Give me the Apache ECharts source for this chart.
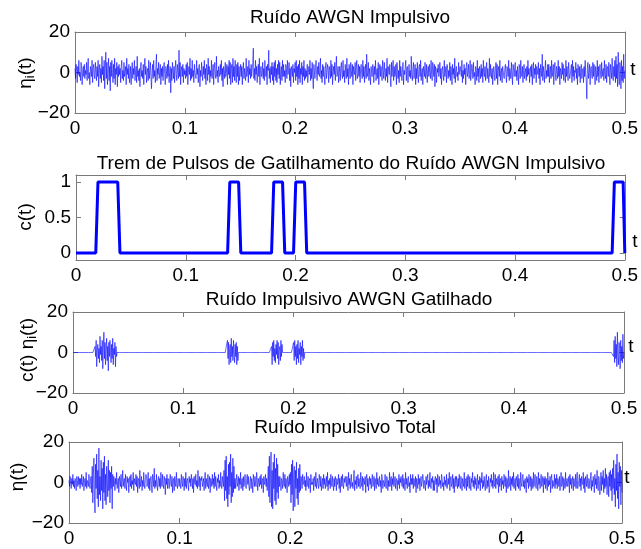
<!DOCTYPE html>
<html>
<head>
<meta charset="utf-8">
<script src="https://cdn.jsdelivr.net/npm/echarts@6/dist/echarts.min.js"></script>
<style>
  html, body { margin: 0; background: #fff; }
  #chart { width: 641px; height: 549px; }
</style>
</head>
<body>
<div id="chart"></div>
<script>
// gating pulses c(t): start / end times (s)
const pulseStart = [0.02, 0.14, 0.18, 0.20, 0.49]
const pulseEnd = [0.04, 0.15, 0.19, 0.21, 0.4995]

// AWGN impulsive noise eta_i(t), 20 samples per row, spans 0..0.5 s
const etaI = [
  2,-3,4,1,-5,3,-1,6,-2,0,-4,5,2,-6,1,3,-2,4,-3,1,
  -1,5,-4,2,7,-3,0,-6,3,1,-2,6,-5,2,4,-1,-3,5,0,-4,
  3,-2,6,-7,1,4,-3,2,-5,8,-1,3,-4,6,-8,2,10,-3,5,-6,
  1,7,-4,3,-9,5,-2,6,0,-5,4,-3,7,-6,2,-1,5,-7,3,-2,
  4,-1,2,-5,3,6,-3,1,-4,5,-2,0,3,-6,7,-1,2,-3,4,-5,
  -2,3,-6,1,5,-3,2,-1,6,-4,0,3,-5,8,-2,1,-4,2,-7,3,
  5,-2,1,-3,4,-6,2,7,-1,3,-5,0,2,-4,6,-3,1,5,-2,-8,
  0,4,-3,6,-2,1,-5,3,9,-4,2,-1,5,-3,0,4,-6,2,-2,3,
  -4,2,5,-1,-6,3,1,-3,4,-2,6,-5,0,3,-10,2,-4,5,1,-3,
  3,-5,2,6,-1,-4,4,0,-3,11,-2,5,-6,1,3,-2,4,-5,2,-1,
  1,-3,4,-2,5,-6,0,3,-1,7,-4,2,-3,6,-2,1,-5,4,0,-2,
  -3,6,-1,2,-5,3,4,-7,1,-2,5,0,-4,3,-1,6,-3,2,-6,4,
  2,-4,7,-1,3,-5,1,-2,6,-3,0,4,-6,2,5,-1,-3,8,-2,1,
  -5,3,0,-2,4,-1,6,-4,2,-7,3,1,-3,5,-2,0,4,-6,3,-1,
  6,-3,5,-6,2,4,-5,7,-2,3,-4,6,-1,-5,4,-2,5,-6,3,-4,
  0,4,-2,3,-6,1,5,-3,2,-1,-4,7,-2,0,3,-5,6,-1,2,-3,
  4,-2,1,5,12,-3,2,-4,6,-1,3,-5,0,4,-2,7,-6,1,3,-2,
  -1,5,-3,2,-4,6,0,-2,3,-6,4,1,11,-3,2,-5,3,-1,5,-4,
  3,-6,5,-2,6,-4,2,-5,4,-1,6,-3,5,-6,1,3,-4,6,-2,4,
  -2,1,-5,4,2,-3,6,-1,0,5,-4,2,-7,3,1,-2,4,-5,2,0,
  5,-4,6,-2,3,-6,4,-3,6,-5,2,-1,5,-6,3,-2,6,-4,2,-3,
  1,-2,4,-5,0,3,-1,6,-4,2,-3,5,-2,-8,4,1,-3,2,6,-1,
  -4,3,-1,5,-2,0,7,-3,1,-5,4,-2,3,-1,-6,2,5,-3,0,4,
  2,-5,3,1,-3,6,-2,4,-6,0,3,-1,5,-4,2,8,-2,-1,3,-5,
  0,3,-4,2,5,-1,-3,6,-2,1,-5,4,0,-3,7,-2,2,-6,4,1,
  -3,5,1,-2,4,-6,3,0,-1,5,-4,2,6,-3,-1,4,-2,3,-5,2,
  4,-1,-3,6,-2,3,-5,1,4,-3,9,-2,0,5,-4,2,-1,-6,3,0,
  -2,4,2,-5,3,-1,6,-4,0,2,-3,5,-6,1,4,-2,3,-1,-4,6,
  1,-3,5,0,-4,2,-2,7,-5,3,1,-1,4,-3,-7,5,-2,2,6,-4,
  3,-2,-1,4,-6,5,2,-3,1,-5,6,-2,3,0,-4,2,5,-6,1,-1,
  -1,6,-4,2,3,-5,0,4,-2,1,-3,8,-1,-4,2,5,-3,0,4,-6,
  2,-3,5,-1,-5,3,4,-2,6,-4,0,2,-6,3,1,-2,5,-3,-1,4,
  -5,1,3,-2,4,0,-3,6,-1,-4,5,2,-2,4,-7,3,1,-5,2,0,
  4,-2,0,5,-3,2,-6,1,3,-1,-4,6,-2,0,3,-5,4,2,-3,1,
  -2,5,-4,3,1,-6,4,-1,2,-3,7,-5,1,3,-2,0,-4,5,-1,2,
  3,0,-2,6,-5,1,-3,4,-1,2,-6,3,5,-2,0,4,-3,-1,6,-4,
  -1,4,2,-3,5,-2,0,-6,3,1,-4,6,-2,2,-5,3,1,-3,4,-2,
  2,-5,6,0,-2,3,-4,1,5,-3,2,-1,-5,7,-2,4,0,-3,2,-6,
  0,3,-1,-4,2,5,-3,4,-6,1,3,-2,6,-4,0,2,-5,3,1,-2,
  -3,2,4,-1,-5,3,1,-2,6,-4,2,0,-3,5,-1,-6,4,2,-2,3,
  5,-2,1,-4,3,0,-6,4,2,-3,6,-1,-2,3,-5,1,4,-3,0,2,
  -4,3,-2,6,-1,2,-5,0,3,-2,4,-6,1,5,-3,2,-1,4,-5,3,
  1,-1,5,-3,2,-6,4,1,-2,9,-4,3,0,-5,2,6,-3,1,-2,4,
  -2,4,-5,1,3,-3,6,-2,0,4,-6,2,5,-1,-4,3,1,-3,6,-2,
  3,-6,2,0,-3,5,-1,4,-4,2,1,-5,6,-2,3,-1,-4,5,0,-3,
  -1,2,4,-5,6,-2,3,-4,1,0,5,-3,2,-6,4,1,-2,3,-5,2,
  4,-3,1,2,-5,3,-2,6,-1,-4,-13,2,5,-3,0,4,-6,2,3,-2,
  -3,5,-2,4,1,-6,3,0,-4,6,-2,3,-5,2,4,-1,-3,5,-2,1,
  2,-4,6,-1,-3,4,-5,2,3,-2,5,0,-6,4,1,-3,7,-2,-4,3,
  -2,6,-5,8,-3,4,-7,10,-1,-6,5,2,-8,6,-4,3,-5,9,-3,1
]

// total impulsive noise eta(t), same time grid
const etaTotal = [
  1,-2,3,0,-3,2,-1,4,-2,1,-3,2,0,-4,3,1,-2,3,-1,2,
  -3,2,-1,4,-2,0,3,-4,1,2,-2,5,-3,1,0,-2,4,-1,-3,2,
  3,-5,8,-10,4,12,-7,-15,9,-3,14,-8,6,-12,17,-6,3,-9,11,-4,
  7,-13,10,-5,13,-9,4,-11,8,2,-7,11,-4,6,-10,5,-3,8,-13,4,
  -2,3,1,-4,2,-1,5,-3,0,2,-5,3,1,-2,4,-3,0,6,-2,1,
  2,-3,4,-1,-4,3,0,2,-5,1,3,-2,4,-3,1,-1,5,-4,2,0,
  -1,4,-2,3,-5,1,2,-3,6,-2,0,3,-4,1,-2,5,-1,-3,2,4,
  3,-2,0,5,-3,2,-4,1,3,-1,-5,4,2,-2,7,-3,1,-2,4,-1,
  -4,1,3,-2,2,-3,5,0,-2,4,-1,-3,3,1,-6,2,-1,4,-3,2,
  1,-3,2,4,-1,-2,3,-5,1,2,-4,3,0,-2,5,-1,-3,2,1,-2,
  2,-1,-3,4,0,-2,3,1,-4,2,-2,5,-3,1,2,-1,-4,3,0,2,
  -2,4,1,-3,2,-5,3,0,-1,4,-2,1,-3,6,-1,-2,3,-4,2,1,
  3,-2,0,2,-4,1,5,-3,2,-1,-2,4,-3,0,3,-5,2,1,-2,4,
  -1,2,-3,5,-2,3,-1,-4,2,0,4,-3,1,-2,5,-1,-3,3,0,-2,
  6,-9,11,-4,13,-8,3,-12,9,-6,10,-2,14,-10,5,-7,12,-5,8,-3,
  2,-3,1,4,-2,0,3,-4,2,-1,5,-3,1,2,-4,3,-2,0,4,-1,
  -3,2,4,-1,3,-2,-4,1,3,-3,2,0,-5,4,1,-2,3,-1,-2,5,
  1,-4,2,0,-2,3,-1,4,-3,1,2,-5,3,-1,0,4,-2,2,-4,1,
  8,-7,13,-10,4,15,-12,6,-13,10,-3,14,-9,7,-11,12,-5,9,-8,3,
  -2,3,0,-4,2,1,-3,5,-1,-2,4,-3,2,0,-5,3,1,-2,4,-1,
  5,-10,9,-6,11,-14,4,8,-12,6,-3,10,-8,2,-11,7,-5,9,-4,3,
  2,-3,4,-1,0,3,-2,1,-4,5,-2,0,3,-3,1,2,-5,4,-1,0,
  -1,2,-4,3,1,-2,5,-3,0,2,-1,-3,4,1,-2,3,-4,0,2,-3,
  4,-1,2,-3,0,3,-2,5,-4,1,-1,2,-3,4,0,-2,3,-1,-4,2,
  -2,3,1,-4,2,-1,0,4,-3,2,-5,1,3,-2,4,-1,-3,2,0,3,
  1,-2,3,0,-4,5,-1,2,-3,1,4,-2,0,-3,2,6,-4,1,-1,3,
  -3,1,4,-2,2,-1,-3,5,0,-2,3,-4,2,1,-1,3,-5,2,4,-2,
  2,-4,0,3,-1,2,-3,1,4,-2,-1,3,-4,2,0,-3,5,-1,2,-2,
  0,3,-2,1,-5,4,2,-3,1,0,-2,4,-1,-3,3,2,-4,1,-2,5,
  -2,1,3,-4,2,-1,5,-2,0,3,-3,1,2,-4,1,-1,4,-3,2,0,
  3,-1,-2,4,-3,2,0,-4,5,-1,2,-3,1,3,-2,0,-5,4,-1,2,
  -1,4,-3,2,1,-2,3,-5,2,0,-3,4,-1,2,-4,1,3,-2,0,4,
  2,-3,1,0,-4,3,-1,2,4,-3,1,-2,5,-1,-3,2,0,3,-4,1,
  -4,2,3,-1,2,-5,4,0,-2,3,-1,1,-3,4,2,-2,0,-4,3,-1,
  1,-2,4,-3,0,2,-1,5,-4,1,3,-2,-1,4,-3,2,-5,1,3,-2,
  3,0,-3,2,-2,4,-1,-3,3,1,-4,2,0,-2,5,-3,1,2,-4,3,
  -2,4,1,-3,3,-1,-4,2,0,5,-2,1,-3,3,-1,2,-4,0,4,-3,
  1,-1,3,-4,2,0,5,-3,1,-2,3,-1,-4,2,4,-3,1,-2,3,-5,
  -3,2,0,4,-2,1,-3,5,-1,-2,4,-3,2,0,-1,3,-5,4,-2,1,
  2,-4,3,-1,1,-3,4,0,-2,3,-5,2,1,-3,6,-2,0,3,-4,2,
  -1,3,-2,5,-3,0,2,-4,3,1,-2,4,-3,2,-1,-4,5,0,-2,3,
  4,-2,1,-3,2,-1,-5,3,0,2,-3,4,-1,-2,3,-4,2,1,-3,5,
  -2,1,4,-2,-3,3,0,-4,5,-1,2,-3,1,4,-2,0,3,-5,2,-1,
  3,-3,2,0,-4,5,-2,1,-1,3,-5,2,4,-3,1,-1,-2,4,-3,2,
  -1,4,-3,2,1,-2,3,-4,0,5,-2,-1,3,-4,2,0,-3,5,-2,1,
  2,-2,0,3,-5,4,-1,2,-3,1,3,-4,2,-1,-2,4,-3,1,5,-3,
  -3,1,4,-2,2,-4,3,0,-1,5,-3,2,-5,3,1,-2,4,-1,-3,2,
  1,-3,2,5,-4,1,-2,3,0,-5,4,-1,2,-3,6,-2,-4,3,1,-6,
  -2,5,-4,3,-1,6,-5,2,-3,7,-2,4,-6,1,3,-7,5,-2,6,-4,
  4,-9,7,-3,11,-6,2,-12,9,-4,14,-8,5,-13,10,-2,8,-11,6,-5
]

const titles = [
  'Ruído AWGN Impulsivo',
  'Trem de Pulsos de Gatilhamento do Ruído AWGN Impulsivo',
  'Ruído Impulsivo AWGN Gatilhado',
  'Ruído Impulsivo Total'
]
const yNames = ['η{sub|i}(t)', 'c(t)', 'c(t) η{sub|i}(t)', 'η(t)']
const cTicks = [0, 0.5, 1]

const n = etaI.length
const time = etaI.map((_, i) => 0.5 * i / (n - 1))
const gate = time.map(t => pulseStart.some((s, k) => t >= s - 1e-9 && t <= pulseEnd[k] - 1e-9) ? 1 : 0)
const gated = etaI.map((v, i) => v * gate[i])

const pair = arr => arr.map((v, i) => [time[i], v])

const FONT = 'Liberation Sans, Arial, sans-serif'
const GRAY = '#7a7a7a'

const grids = [
  { left: 75, top: 32, width: 551, height: 81 },
  { left: 76, top: 175, width: 551, height: 85 },
  { left: 73, top: 312, width: 551, height: 81 },
  { left: 69, top: 442, width: 553, height: 81 }
]

const minus = v => String(v).replace('-', '\u2212')

const xAxes = []
const yAxes = []
grids.forEach((g, k) => {
  const base = {
    gridIndex: k,
    type: 'value',
    min: 0,
    max: 0.5,
    interval: 0.1,
    axisLine: { show: true, onZero: false, lineStyle: { color: GRAY, width: 1 } },
    axisTick: { show: true, inside: true, length: 5, lineStyle: { color: GRAY } },
    splitLine: { show: false }
  }
  xAxes.push(Object.assign({}, base, {
    position: 'bottom',
    axisLabel: { color: '#000', fontSize: 19, fontFamily: FONT, margin: 6 }
  }))
  xAxes.push(Object.assign({}, base, { position: 'top', axisLabel: { show: false } }))

  const isC = k === 1
  const ybase = {
    gridIndex: k,
    type: 'value',
    min: isC ? -0.1 : -20,
    max: isC ? 1.1 : 20,
    interval: isC ? undefined : 20,
    axisLine: { show: true, onZero: false, lineStyle: { color: GRAY, width: 1 } },
    axisTick: { show: true, inside: true, length: 5, lineStyle: { color: GRAY } },
    splitLine: { show: false }
  }
  if (isC) ybase.axisTick.customValues = cTicks
  yAxes.push(Object.assign({}, ybase, {
    position: 'left',
    axisLabel: {
      color: '#000', fontSize: 19, fontFamily: FONT, margin: 5,
      formatter: minus,
      customValues: isC ? cTicks : undefined
    }
  }))
  yAxes.push(Object.assign({}, ybase, { position: 'right', axisLabel: { show: false } }))
})

const seriesData = [pair(etaI), pair(gate), pair(gated), pair(etaTotal)]
const series = seriesData.map((d, k) => ({
  type: 'line',
  xAxisIndex: 2 * k,
  yAxisIndex: 2 * k,
  data: d,
  symbol: 'none',
  silent: true,
  lineStyle: { color: '#0000ff', width: k === 1 ? 3 : 0.6 }
}))

const titlePos = [[350, 18], [351, 164], [349, 300], [345, 428]]
const yNamePos = [[26, 73], [26, 217], [28, 350], [18, 477]]
const tPos = [[633, 70], [635, 242], [631, 347], [627, 478]]

const graphic = []
titles.forEach((txt, k) => {
  graphic.push({
    type: 'text', x: titlePos[k][0], y: titlePos[k][1],
    style: { text: txt, font: '19px ' + FONT, fill: '#000', align: 'center', verticalAlign: 'middle' }
  })
  graphic.push({
    type: 'text', x: yNamePos[k][0], y: yNamePos[k][1], rotation: Math.PI / 2,
    style: {
      text: yNames[k], font: '19px ' + FONT, fill: '#000', align: 'center', verticalAlign: 'middle',
      rich: { sub: { fontSize: 13, fontFamily: FONT, fill: '#000', padding: [9, 0, 0, 0] } }
    }
  })
  graphic.push({
    type: 'text', x: tPos[k][0], y: tPos[k][1],
    style: { text: 't', font: '19px ' + FONT, fill: '#000', align: 'center', verticalAlign: 'middle' }
  })
})

const chart = echarts.init(document.getElementById('chart'))
chart.setOption({
  animation: false,
  backgroundColor: '#fff',
  grid: grids,
  xAxis: xAxes,
  yAxis: yAxes,
  series: series,
  graphic: graphic
})
</script>
</body>
</html>
